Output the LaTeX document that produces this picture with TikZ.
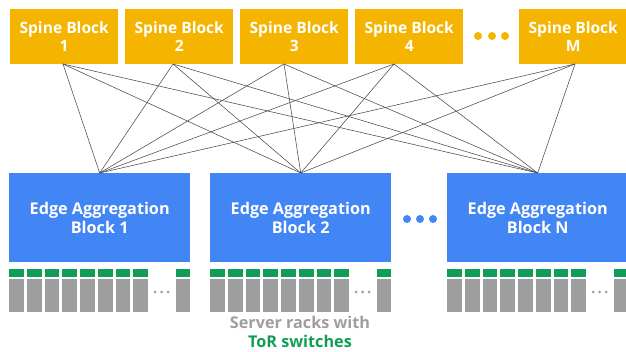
\documentclass[tikz,border=0pt]{standalone}
\usepackage{fontspec}
\setmainfont{Open Sans}
\definecolor{spineorange}{HTML}{F4B400}
\definecolor{edgeblue}{HTML}{4285F4}
\definecolor{torgreen}{HTML}{0F9D58}
\definecolor{rackgray}{HTML}{9E9E9E}
\definecolor{linegray}{HTML}{4A4A4A}
\begin{document}
\begin{tikzpicture}[x=1pt,y=-1pt,
  spinebox/.style={fill=spineorange, draw=none, minimum width=108pt, minimum height=55pt, inner sep=0pt, text=white, font=\bfseries\fontsize{15.6}{18}\selectfont, align=center},
  edgebox/.style={fill=edgeblue, draw=none, minimum width=181pt, minimum height=89pt, inner sep=0pt, text=white, font=\bfseries\fontsize{16.2}{19}\selectfont, align=center},
  wire/.style={draw=linegray, line width=0.55pt},
  rack/.style={fill=rackgray, draw=none},
  tor/.style={fill=torgreen, draw=none},
  smalldot/.style={circle, fill=rackgray, inner sep=0pt, minimum size=3pt},
]
\useasboundingbox (0,0) rectangle (626,352);
% spine blocks
\node[spinebox, anchor=north west] (s1) at (10,9) {Spine Block\\1};
\node[spinebox, anchor=north west] (s2) at (125,9) {Spine Block\\2};
\node[spinebox, anchor=north west] (s3) at (240,9) {Spine Block\\3};
\node[spinebox, anchor=north west] (s4) at (355,9) {Spine Block\\4};
\node[spinebox, anchor=north west] (sm) at (519,9) {Spine Block\\M};
\foreach \x/\n in {478/a,492/b,505/c}
  \node[circle, fill=spineorange, inner sep=0pt, minimum size=8pt] (od\n) at (\x,36) {};
% edge blocks
\node[edgebox, anchor=north west] (e1) at (9,173) {Edge Aggregation\\Block 1};
\node[edgebox, anchor=north west] (e2) at (210,173) {Edge Aggregation\\Block 2};
\node[edgebox, anchor=north west] (en) at (447,173) {Edge Aggregation\\Block N};
\foreach \x/\n in {407/a,420/b,433/c}
  \node[circle, fill=edgeblue, inner sep=0pt, minimum size=8pt] (bd\n) at (\x,219) {};
% connection points
\coordinate (p1) at (63,64);
\coordinate (p2) at (173,64);
\coordinate (p3) at (284,64);
\coordinate (p4) at (394,64);
\coordinate (pm) at (575,64);
\coordinate (q1) at (e1.north);
\coordinate (q2) at (e2.north);
\coordinate (qn) at (en.north);
\foreach \s in {p1,p2,p3,p4,pm}
  \foreach \e in {q1,q2,qn}
    \draw[wire] (\s) -- (\e);
% racks
\foreach \bx/\b in {9/a,210/b,447/c}{
  \foreach \i in {0,...,7}{
    \fill[tor] ({\bx+\i*17.75},269) rectangle ++(14.75,8);
    \fill[rack] ({\bx+\i*17.75},279.5) rectangle ++(14.75,32.5);
  }
  \fill[tor] ({\bx+167},269) rectangle ++(14,8);
  \fill[rack] ({\bx+167},279.5) rectangle ++(14,32.5);
  \foreach \j in {0,1,2}
    \node[smalldot] (rd\b\j) at ({\bx+146+\j*6.5},292) {};
}
% caption
\node[text=rackgray, font=\bfseries\fontsize{16.2}{18}\selectfont, anchor=base] (cap1) at (300,329) {Server racks with};
\node[text=torgreen, font=\bfseries\fontsize{16.2}{18}\selectfont, anchor=base] (cap2) at (300,348) {ToR switches};
\end{tikzpicture}
\end{document}
